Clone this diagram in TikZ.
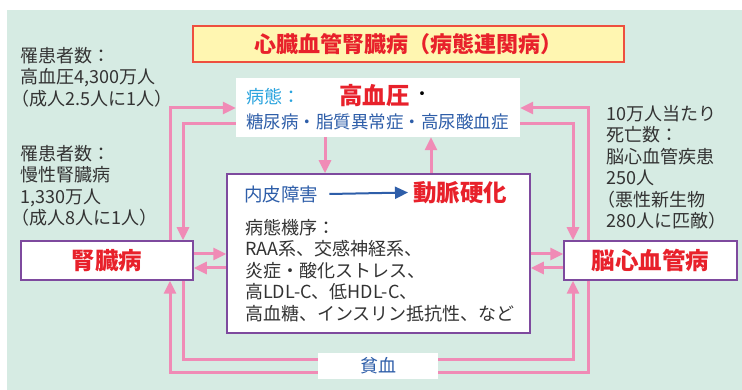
\documentclass[tikz,border=0pt]{standalone}
\usepackage{fontspec}
\setmainfont{Noto Sans CJK JP}
\usetikzlibrary{arrows.meta}
\definecolor{bgmint}{HTML}{D6EBE3}
\definecolor{pinkl}{HTML}{F08BB6}
\definecolor{purp}{HTML}{7E4A9E}
\definecolor{redt}{HTML}{E8212B}
\definecolor{bluet}{HTML}{2E5EA9}
\definecolor{cyant}{HTML}{2AA4DE}
\definecolor{titlefill}{HTML}{FFF6B1}
\definecolor{titleline}{HTML}{EE4F3F}
\definecolor{graytext}{HTML}{333333}
\begin{document}
\begin{tikzpicture}[x=1pt,y=-1pt,
  box/.style={draw=purp,line width=1.5pt,fill=white,inner sep=0pt,rectangle},
  plain/.style={fill=white,inner sep=0pt,rectangle},
  pline/.style={draw=pinkl,line width=3pt},
  parr/.style={pline,-{Triangle[length=13pt,width=12pt]}},
  txt/.style={inner sep=0pt,text=graytext,font=\fontsize{18}{21.5}\selectfont,align=left},
  bigred/.style={inner sep=0pt,text=redt,font=\fontsize{23.5}{24}\selectfont\bfseries},
]
\useasboundingbox (0,0) rectangle (742,390);
\fill[bgmint] (7,10) rectangle (742,390);

% title
\node[fill=titlefill,draw=titleline,line width=1.5pt,minimum width=431pt,minimum height=36pt,inner sep=0pt,
      text=redt,font=\fontsize{22}{22}\selectfont\bfseries] (title) at (408.5,44) {心臓血管腎臓病（病態連関病）};

% top box
\node[plain,minimum width=284pt,minimum height=59pt] (top) at (378,107.5) {};
\node[anchor=west,inner sep=0pt,text=cyant,font=\fontsize{18}{18}\selectfont] (pt1) at (246,97) {病態：};
\node[bigred,anchor=west] (pt2) at (339,95.5) {高血圧};
\node[anchor=center,inner sep=0pt,text=black,font=\fontsize{18}{18}\selectfont] (pt3) at (422,96) {・};
\node[anchor=west,inner sep=0pt,text=bluet,font=\fontsize{17.5}{18}\selectfont] (pt4) at (246,121.5) {糖尿病・脂質異常症・高尿酸血症};

% middle box
\node[box,minimum width=303pt,minimum height=159pt] (mid) at (378.5,253.5) {};
\node[anchor=west,inner sep=0pt,text=bluet,font=\fontsize{18.5}{19}\selectfont] (endo) at (244,194) {内皮障害};
\node[bigred,anchor=west] (athero) at (413,192.5) {動脈硬化};
\draw[bluet,line width=2pt,-{Triangle[length=13pt,width=12pt]}] ([xshift=11pt]endo.east) -- ([xshift=-5pt]athero.west);
\node[txt,anchor=north west] (mech) at (245,219) {病態機序：\\RAA系、交感神経系、\\炎症・酸化ストレス、\\高LDL-C、低HDL-C、\\高血糖、インスリン抵抗性、など};

% side boxes
\node[box,minimum width=172pt,minimum height=39pt,text=redt,font=\fontsize{23.5}{24}\selectfont\bfseries] (kidney) at (107,260.5) {腎臓病};
\node[box,minimum width=173pt,minimum height=39pt,text=redt,font=\fontsize{23.5}{24}\selectfont\bfseries] (cvd) at (650.5,260.5) {脳心血管病};

% anemia
\node[plain,minimum width=120pt,minimum height=26pt,text=bluet,font=\fontsize{18}{18}\selectfont] (anemia) at (378,366) {貧血};

% statistics
\node[txt,anchor=north west] (stat1) at (20,47) {罹患者数：\\高血圧4,300万人\\\hspace*{-0.5em}（成人2.5人に1人）};
\node[txt,anchor=north west] (stat2) at (20,145) {罹患者数：\\慢性腎臓病\\1,330万人\\\hspace*{-0.5em}（成人8人に1人）};
\node[txt,anchor=north west] (stat3) at (606,105) {10万人当たり\\死亡数：\\脳心血管疾患\\250人\\\hspace*{-0.5em}（悪性新生物\\280人に匹敵）};

% pink connectors, left
\draw[parr] (kidney.north -| 170,0) |- (top.west |- 0,108);
\draw[parr] (top.west |- 0,124) -| (kidney.north -| 183,0);
\draw[parr] (anemia.west |- 0,372.5) -| (kidney.south -| 170,0);
\draw[pline] (kidney.south -| 183,0) |- (anemia.west |- 0,359.5);
% pink connectors, right
\draw[parr] (cvd.north -| 588,0) |- (top.east |- 0,108);
\draw[parr] (top.east |- 0,124) -| (cvd.north -| 573,0);
\draw[parr] (anemia.east |- 0,359.5) -| (cvd.south -| 573,0);
\draw[pline] (cvd.south -| 588,0) |- (anemia.east |- 0,372.5);
% top <-> middle
\draw[parr] (top.south -| 325,0) -- (mid.north -| 325,0);
\draw[parr] (mid.north -| 431,0) -- (top.south -| 431,0);
% middle <-> sides
\draw[parr] (kidney.east |- 0,254) -- (mid.west |- 0,254);
\draw[parr] (mid.west |- 0,268) -- (kidney.east |- 0,268);
\draw[parr] (mid.east |- 0,254) -- (cvd.west |- 0,254);
\draw[parr] (cvd.west |- 0,268) -- (mid.east |- 0,268);
\end{tikzpicture}
\end{document}
